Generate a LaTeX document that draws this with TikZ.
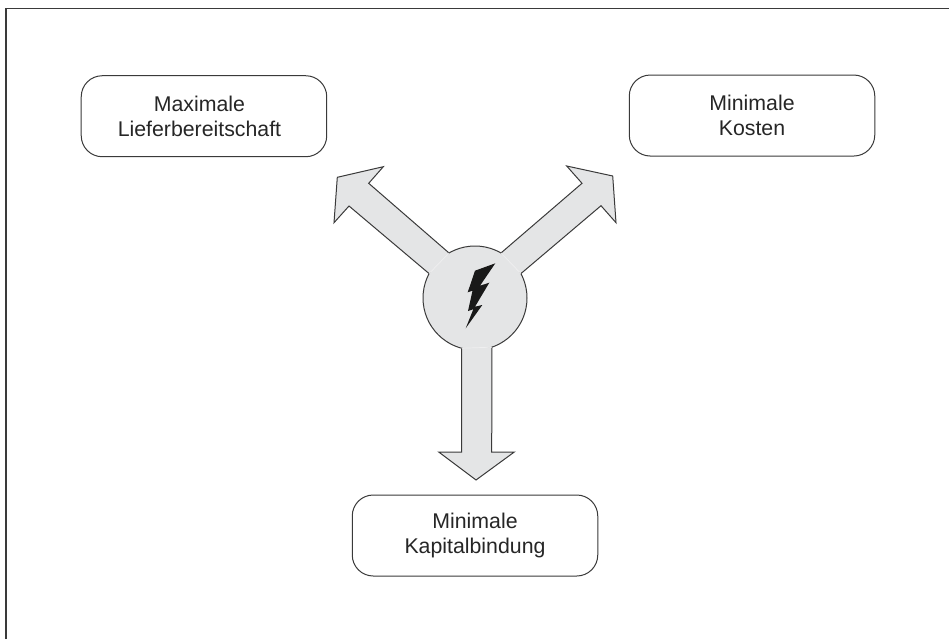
\documentclass[tikz,border=0pt]{standalone}
\usepackage{fontspec}
\setmainfont{Liberation Sans}
\usepackage{tikz}
\usetikzlibrary{positioning}
\definecolor{pfeilgrau}{HTML}{E4E5E6}
\definecolor{strich}{HTML}{3A3A3A}
\tikzset{
    zielbox/.style={draw=strich, line width=1pt, rounded corners=21pt, fill=white, align=center, minimum width=245.5pt, minimum height=81pt, inner sep=0pt, outer sep=0pt, text=black!85, font=\fontsize{21.3}{25}\selectfont},
    hubkreis/.style={draw=strich, line width=1pt, circle, fill=pfeilgrau, minimum size=104pt, inner sep=0pt, outer sep=0pt},
    blockpfeil/.style={draw=strich, line width=1pt, fill=pfeilgrau, line join=miter},
    naht/.style={draw=white!40!pfeilgrau, line width=0.7pt}
}

\begin{document}
\begin{tikzpicture}[x=1pt, y=-1pt]
\useasboundingbox (0,0) rectangle (949,639);
\draw[line width=1.4pt, strich] (6,639) -- (6,8.5) -- (949,8.5);

\node[hubkreis] (hub) at (475,298) {};
\node[zielbox, above left=104.5pt and 111.5pt of hub] (liefer) {\hspace*{-9pt}Maximale\\\hspace*{-9pt}Lieferbereitschaft};
\node[zielbox, above right=105.2pt and 117.5pt of hub] (kosten) {Minimale\\Kosten};
\node[zielbox, below=145pt of hub] (kapital) {Minimale\\Kapitalbindung};

% block arrows open towards the hub
\draw[blockpfeil] (hub.152) -- (349,206) -- (334,222.7) -- (337.3,177.3) -- (383.3,166.7) -- (368.7,183.3) -- (hub.120);
\draw[blockpfeil] (hub.60) -- (582,183.3) -- (566.7,166) -- (612.7,176) -- (616,222.7) -- (601,205.7) -- (hub.28);
\draw[blockpfeil] (hub.255) -- (461.7,452) -- (438.7,452) -- (476,480) -- (514.3,452) -- (491.7,452) -- (hub.289);
\draw[naht] (hub.152) -- (hub.120);
\draw[naht] (hub.60) -- (hub.28);
\draw[naht] (hub.255) -- (hub.289);

% lightning
\fill[black!90] (495.3,263.3) -- (475,270.7) -- (467.7,292.3) -- (472.5,290.7) -- (468,311) -- (473.3,309.3) -- (465.7,328.3) -- (482.3,305) -- (475,306.7) -- (489.3,282.7) -- (480,285.7) -- cycle;
\end{tikzpicture}
\end{document}
